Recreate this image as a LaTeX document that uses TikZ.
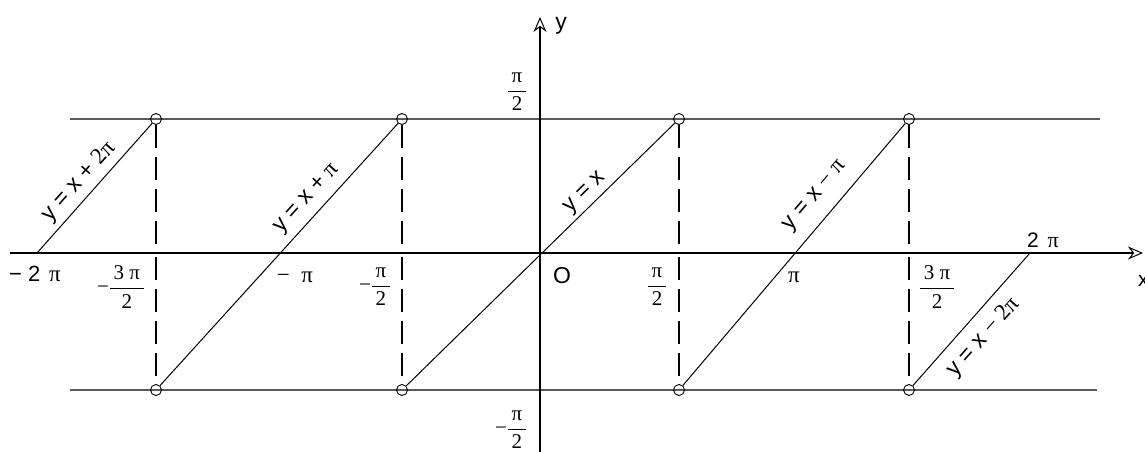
\documentclass[tikz,border=0pt]{standalone}
\usepackage{fontspec}
\setmainfont{Liberation Serif}
\newfontfamily\ars{Liberation Sans}
\usetikzlibrary{arrows.meta}
\newcommand\fr[2]{$\displaystyle{\hbox{\,#1\,}\over\hbox{#2}}$}
\begin{document}
\begin{tikzpicture}[x=1pt,y=-1pt,
  axis/.style={line width=2.4pt,-{Stealth[length=15pt,width=13pt,open,line width=1pt]}},
  lev/.style={line width=1.3pt,draw=black!65},
  diag/.style={line width=1pt},
  vdash/.style={line width=1.8pt,dash pattern=on 23pt off 9pt},
  hole/.style={circle,draw,line width=0.9pt,minimum size=11pt,inner sep=0pt},
  lab/.style={font=\ars\fontsize{23}{23}\selectfont,sloped},
  tick/.style={font=\fontsize{21}{24}\selectfont,inner sep=0pt}
]
\useasboundingbox (0,0) rectangle (1145,452);
\coordinate (xs) at (10,253); \coordinate (xe) at (1143,253);
\coordinate (ys) at (540,452); \coordinate (ye) at (540,17);
\coordinate (hl1) at (70,119); \coordinate (hr1) at (1100,119);
\coordinate (hl2) at (70,390); \coordinate (hr2) at (1097,390);
\draw[lev] (hl1) -- (hr1);
\draw[lev] (hl2) -- (hr2);
\foreach \n/\x in {a/156,b/402,c/679,d/909}{
  \node[hole] (t\n) at (\x,119) {};
  \node[hole] (b\n) at (\x,390) {};
  \coordinate (u\n) at (\x,249);
  \coordinate (l\n) at (\x,257);
  \draw[vdash] (t\n) -- (u\n);
  \draw[vdash] (l\n) -- (b\n);
}
\coordinate (z1) at (37,253);
\coordinate (z4) at (1030,253);
\draw[axis] (xs) -- (xe);
\draw[axis] (ys) -- (ye);
\draw[diag] (z1) -- node[lab,pos=0.47,anchor=south,inner sep=5pt]{y = x + {\rmfamily 2π}} (ta);
\draw[diag] (ba) -- node[lab,pos=0.67,anchor=south,inner sep=7pt]{y = x + {\rmfamily π}} (tb);
\draw[diag] (bb) -- node[lab,pos=0.70,anchor=south,inner sep=3pt]{y = x} (tc);
\draw[diag] (bc) -- node[lab,pos=0.67,anchor=south,inner sep=12pt]{y = x {\rmfamily − π}} (td);
\draw[diag] (bd) -- node[lab,pos=0.47,anchor=north,inner sep=11pt]{y = x {\rmfamily − 2π}} (z4);
\node[tick] (lm2pi) at (35,274) {{\ars\fontsize{22}{22}\selectfont − 2}\, {\fontsize{23}{23}\selectfont π}};
\node[tick] (lm3h) at (121,287) {−\fr{3 π}{2}};
\node[tick] (lmpi) at (295,277) {{\fontsize{23}{23}\selectfont − \ π}};
\node[tick] (lmh) at (375,287) {−\fr{π}{2}};
\node[tick] (O) at (562,276) {\ars\fontsize{23}{23}\selectfont O};
\node[tick] (ph) at (657,287) {\fr{π}{2}};
\node[tick] (pi) at (794,277) {{\fontsize{23}{23}\selectfont π}};
\node[tick] (p3h) at (937,287) {\fr{3 π}{2}};
\node[tick] (p2pi) at (1043,240) {{\ars\fontsize{21}{21}\selectfont 2}\, {\fontsize{22}{22}\selectfont π}};
\node[tick,anchor=west] (xl) at (1138,281) {\ars\fontsize{21}{21}\selectfont x};
\node[tick] (yl) at (561,26) {\ars\fontsize{23}{23}\selectfont y};
\node[tick] (yh) at (517,92) {\fr{π}{2}};
\node[tick] (ymh) at (511,430) {−\fr{π}{2}};
\end{tikzpicture}
\end{document}
